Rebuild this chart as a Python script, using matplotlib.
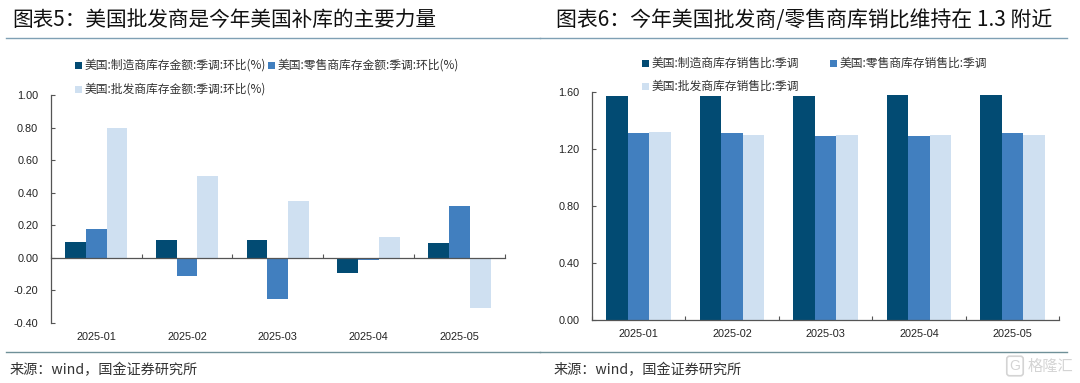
import matplotlib
matplotlib.use("Agg")
import matplotlib.pyplot as plt
import numpy as np
from matplotlib.patches import Rectangle
from matplotlib.lines import Line2D

plt.rcParams['font.family'] = ['Liberation Sans', 'Noto Sans CJK SC', 'DejaVu Sans']
CJK = ['Noto Sans CJK SC', 'DejaVu Sans']

categories = ['2025-01', '2025-02', '2025-03', '2025-04', '2025-05']
left_mfg = [0.10, 0.11, 0.11, -0.09, 0.09]
left_retail = [0.18, -0.11, -0.25, -0.015, 0.32]
left_whole = [0.80, 0.50, 0.35, 0.13, -0.31]
right_mfg = [1.57, 1.57, 1.57, 1.58, 1.58]
right_retail = [1.31, 1.31, 1.29, 1.29, 1.31]
right_whole = [1.32, 1.30, 1.30, 1.30, 1.30]
left_names = ['美国:制造商库存金额:季调:环比(%)', '美国:零售商库存金额:季调:环比(%)', '美国:批发商库存金额:季调:环比(%)']
right_names = ['美国:制造商库存销售比:季调', '美国:零售商库存销售比:季调', '美国:批发商库存销售比:季调']
colors = ['#024B73', '#417FBF', '#CFE0F1']
W, H = 1080, 383

fig = plt.figure(figsize=(W / 100, H / 100), dpi=100, facecolor='white')

def axes_px(x0, x1, ytop, ybot):
    return fig.add_axes([x0 / W, 1 - ybot / H, (x1 - x0) / W, (ybot - ytop) / H])

def draw(ax, series, ylim, yticks, label_y):
    x = np.arange(len(categories))
    w = 0.23
    for i, (vals, c) in enumerate(zip(series, colors)):
        ax.bar(x + (i - 1) * w, vals, w, color=c, linewidth=0, zorder=2)
    ax.set_xlim(-0.5, len(categories) - 0.5)
    ax.set_ylim(*ylim)
    ax.set_yticks(yticks)
    ax.set_yticklabels([f'{v:.2f}' for v in yticks], fontsize=7.8, color='#222222')
    for s in ['top', 'right']:
        ax.spines[s].set_visible(False)
    for s in ['left', 'bottom']:
        ax.spines[s].set_color('#555555')
        ax.spines[s].set_linewidth(0.9)
    ax.tick_params(axis='y', direction='in', length=3, width=0.8, color='#555555', pad=9)
    ax.set_xticks(np.arange(len(categories) + 1) - 0.5)
    ax.set_xticklabels([''] * (len(categories) + 1))
    ax.tick_params(axis='x', direction='in', length=3, width=0.8, color='#555555')
    trans = matplotlib.transforms.blended_transform_factory(ax.transData, fig.transFigure)
    for xi, c in zip(x, categories):
        ax.text(xi, 1 - label_y / H, c, transform=trans, ha='center', va='center',
                fontsize=7.8, color='#222222', clip_on=False)

# left chart
axL = axes_px(50.7, 505, 95, 323)
draw(axL, [left_mfg, left_retail, left_whole], (-0.4, 1.0), [1.0, 0.8, 0.6, 0.4, 0.2, 0.0, -0.2, -0.4], 337)
axL.spines['bottom'].set_position(('data', 0))

# right chart
axR = axes_px(592, 1059, 91.7, 320)
draw(axR, [right_mfg, right_retail, right_whole], (0, 1.6), [1.6, 1.2, 0.8, 0.4, 0.0], 334)

# legends, drawn as figure-level swatches and labels
def legend_item(px, py, c, label):
    fig.add_artist(Rectangle(((px - 3.5) / W, 1 - (py + 3.5) / H), 7 / W, 7 / H, transform=fig.transFigure,
                             facecolor=c, edgecolor='none'))
    fig.text((px + 6.5) / W, 1 - py / H, label, ha='left', va='center', fontsize=8.5, color='#333333', family=CJK)

legend_item(78, 65, colors[0], left_names[0])
legend_item(271, 65, colors[1], left_names[1])
legend_item(78, 89, colors[2], left_names[2])
legend_item(645, 63, colors[0], right_names[0])
legend_item(833, 63, colors[1], right_names[1])
legend_item(645, 86, colors[2], right_names[2])

# titles, rules and sources
fig.text(12 / W, 1 - 20 / H, '图表5\uff1a美国批发商是今年美国补库的主要力量', ha='left', va='center',
         fontsize=14.9, color='#111111', family=CJK)
fig.text(555.5 / W, 1 - 20 / H, '图表6\uff1a今年美国批发商/零售商库销比维持在 1.3 附近', ha='left', va='center',
         fontsize=15, color='#111111', family=CJK)
for x0, x1, y, c in [(6, 540, 38, '#7FA0B4'), (540, 1067, 38, '#7FA0B4'),
                     (6, 540, 352, '#6F9098'), (540, 1067, 352, '#6F9098')]:
    fig.add_artist(Line2D([x0 / W, x1 / W], [1 - y / H, 1 - y / H], transform=fig.transFigure,
                          color=c, linewidth=1.0))
source = '来源\uff1awind\uff0c国金证券研究所'
fig.text(10 / W, 1 - 370 / H, source, ha='left', va='center', fontsize=10.2, color='#333333', family=CJK)
fig.text(554 / W, 1 - 370 / H, source, ha='left', va='center', fontsize=10.2, color='#333333', family=CJK)

# watermark
fig.text(1015 / W, 1 - 366 / H, 'G', ha='center', va='center', fontsize=10, color='#D4D4D4',
         bbox=dict(boxstyle='round,pad=0.2', facecolor='white', edgecolor='#D4D4D4', linewidth=1.2))
fig.text(1050 / W, 1 - 366 / H, '格隆汇', ha='center', va='center', fontsize=11, color='#D4D4D4', family=CJK)

fig.savefig('out.png', dpi=100)
